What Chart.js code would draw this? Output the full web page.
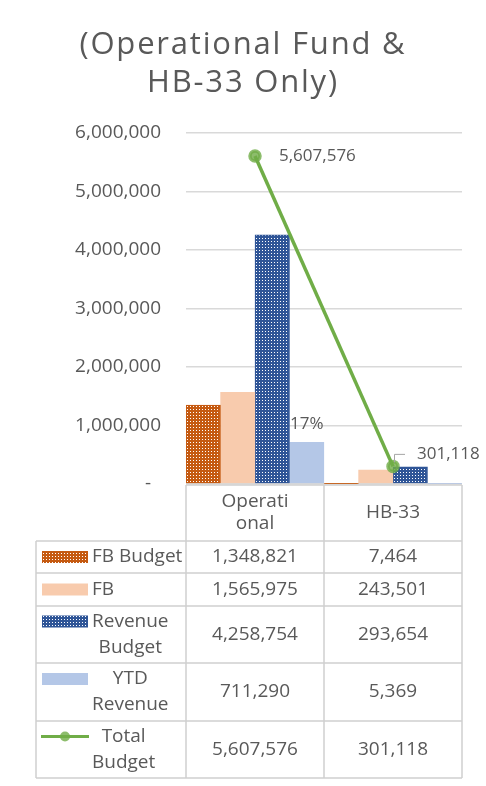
<!DOCTYPE html>
<html>
<head>
<meta charset="utf-8">
<script src="https://cdn.jsdelivr.net/npm/chart.js@4"></script>
<style>
  html, body { margin: 0; padding: 0; background: #fff; }
  canvas { display: block; }
</style>
</head>
<body>
<canvas id="chart" width="486" height="786"></canvas>
<script>
// data
const categories = ['Operational', 'HB-33'];
const headerLines = [['Operati', 'onal'], ['HB-33']];
const fbBudget = [1348821, 7464];
const fb = [1565975, 243501];
const revenueBudget = [4258754, 293654];
const ytdRevenue = [711290, 5369];
const totalBudget = [5607576, 301118];
const pctLabels = ['17%', ''];
const yTicks = [0, 1000000, 2000000, 3000000, 4000000, 5000000, 6000000];

const seriesNames = [['FB Budget'], ['FB'], ['Revenue', 'Budget'], ['YTD', 'Revenue'], ['Total', 'Budget']];
const seriesValues = [fbBudget, fb, revenueBudget, ytdRevenue, totalBudget];

const FONT = '"Open Sans", "Noto Sans", sans-serif';
const TXT = '#595959';
const GRID = '#D9D9D9';
const LINE_GREEN = '#70AD47';

const ctx = document.getElementById('chart').getContext('2d');

function dots(color) {
  const c = document.createElement('canvas');
  c.width = 3; c.height = 3;
  const g = c.getContext('2d');
  g.fillStyle = color; g.fillRect(0, 0, 3, 3);
  g.fillStyle = '#fff'; g.fillRect(1, 1, 1, 1);
  return ctx.createPattern(c, 'repeat');
}

const fills = [dots('#C55A11'), '#F8CBAD', dots('#2F5597'), '#B4C7E7'];
const borders = ['#C55A11', '#F8CBAD', '#2F5597', '#B4C7E7'];

const fmt = v => v.toLocaleString('en-US');

// row heights of the data table under the plot
const headerH = 56;
const rowH = [32, 33, 57, 58, 57];
const tableLeft = 36;

const extras = {
  id: 'extras',
  afterDraw(chart) {
    const c = chart.ctx;
    const area = chart.chartArea;
    const x = chart.scales.x;
    c.save();

    // title
    c.fillStyle = TXT;
    c.textAlign = 'center';
    c.textBaseline = 'middle';
    c.font = '31px ' + FONT;
    c.letterSpacing = '1.8px';
    c.fillText('(Operational Fund &', 243, 45);
    c.fillText('HB-33 Only)', 243, 83);
    c.letterSpacing = '0px';

    // data labels
    c.font = '17px ' + FONT;
    c.textAlign = 'left';
    const line = chart.getDatasetMeta(4).data;
    c.fillText(fmt(totalBudget[0]), line[0].x + 24, line[0].y);
    c.strokeStyle = '#A6A6A6';
    c.lineWidth = 1;
    c.beginPath();
    c.moveTo(line[1].x + 1.5, line[1].y - 4);
    c.lineTo(line[1].x + 1.5, line[1].y - 12);
    c.lineTo(line[1].x + 12, line[1].y - 12);
    c.stroke();
    c.fillText(fmt(totalBudget[1]), line[1].x + 24, line[1].y - 12);

    const ytd = chart.getDatasetMeta(3).data;
    c.textAlign = 'center';
    c.textBaseline = 'bottom';
    pctLabels.forEach((t, i) => {
      if (t) c.fillText(t, ytd[i].x, ytd[i].y - 10);
    });

    // table
    const colW = x.width / categories.length;
    const colEdges = [area.left];
    categories.forEach((_, i) => colEdges.push(x.getPixelForValue(i) + colW / 2));
    const top = area.bottom + 1;
    const rowTops = [top + headerH];
    rowH.forEach(h => rowTops.push(rowTops[rowTops.length - 1] + h));
    const bottom = rowTops[rowTops.length - 1];

    c.strokeStyle = '#D0D0D0';
    c.lineWidth = 1.5;
    c.beginPath();
    c.moveTo(area.left, top); c.lineTo(area.right, top);
    colEdges.forEach(e => { c.moveTo(e, top); c.lineTo(e, bottom); });
    rowTops.forEach(t => { c.moveTo(tableLeft, t); c.lineTo(area.right, t); });
    c.moveTo(tableLeft, rowTops[0]); c.lineTo(tableLeft, bottom);
    c.stroke();

    c.font = '19px ' + FONT;
    c.fillStyle = TXT;
    c.textAlign = 'center';
    c.textBaseline = 'middle';
    headerLines.forEach((lines, i) => {
      const cx = x.getPixelForValue(i);
      const cy = top + headerH / 2;
      lines.forEach((l, k) => c.fillText(l, cx, cy + (k - (lines.length - 1) / 2) * 22));
    });

    seriesValues.forEach((vals, r) => {
      const cy = (rowTops[r] + rowTops[r + 1]) / 2;
      vals.forEach((v, i) => c.fillText(fmt(v), x.getPixelForValue(i), cy));

      // legend key
      const names = seriesNames[r];
      const firstY = cy - (names.length - 1) / 2 * 26;
      if (r < 4) {
        c.fillStyle = fills[r];
        c.fillRect(tableLeft + 6, firstY - 6, 46, 12);
      } else {
        c.strokeStyle = LINE_GREEN;
        c.lineWidth = 3;
        c.beginPath();
        c.moveTo(tableLeft + 5, firstY); c.lineTo(tableLeft + 53, firstY);
        c.stroke();
        c.fillStyle = 'rgba(112,173,71,0.8)';
        c.beginPath();
        c.arc(tableLeft + 29, firstY, 5, 0, Math.PI * 2);
        c.fill();
      }
      c.fillStyle = TXT;
      const widths = names.map(n => c.measureText(n).width);
      const cx = 92 + Math.max(...widths) / 2;
      names.forEach((n, k) => c.fillText(n, cx, firstY + k * 26));
    });

    c.restore();
  }
};

const barSets = ['FB Budget', 'FB', 'Revenue Budget', 'YTD Revenue'].map((name, i) => ({
  type: 'bar',
  label: name,
  data: seriesValues[i],
  backgroundColor: fills[i],
  borderColor: borders[i],
  borderWidth: 1,
  barPercentage: 1,
  categoryPercentage: 1,
  order: 1
}));

new Chart(ctx, {
  type: 'bar',
  data: {
    labels: categories,
    datasets: [...barSets, {
      type: 'line',
      label: 'Total Budget',
      data: totalBudget,
      borderColor: LINE_GREEN,
      borderWidth: 3.5,
      pointRadius: 5,
      pointBackgroundColor: 'rgba(112,173,71,0.8)',
      pointBorderColor: 'rgba(112,173,71,0.8)',
      order: 0
    }]
  },
  options: {
    responsive: false,
    animation: false,
    layout: { padding: { left: 0, right: 24, top: 133, bottom: 302 } },
    plugins: {
      legend: { display: false },
      tooltip: { enabled: false }
    },
    scales: {
      x: { display: false },
      y: {
        min: 0,
        max: 6000000,
        afterBuildTicks: s => { s.ticks = yTicks.map(v => ({ value: v })); },
        afterFit: s => { s.width = 186; },
        ticks: {
          padding: 25,
          color: TXT,
          font: { family: FONT, size: 19 },
          callback: v => v === 0 ? '-  ' : fmt(v)
        },
        grid: { color: GRID, lineWidth: 1.5, drawTicks: false },
        border: { display: false }
      }
    }
  },
  plugins: [extras]
});
</script>
</body>
</html>
